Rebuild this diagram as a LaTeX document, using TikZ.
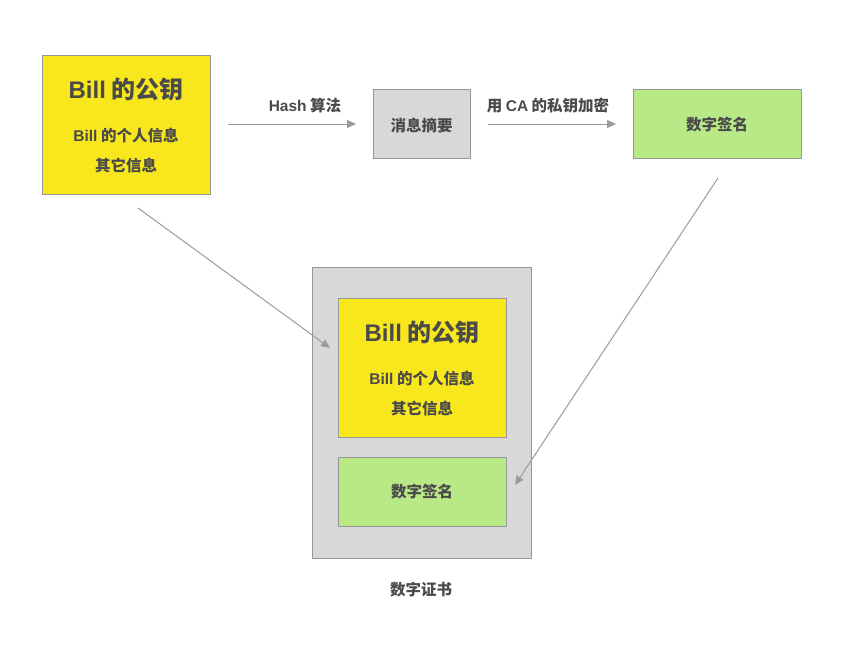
\documentclass[tikz,border=0pt]{standalone}
\usepackage{fontspec}
\setmainfont{Noto Sans CJK SC}
\newfontfamily\lat{Liberation Sans}
\usetikzlibrary{arrows.meta}
\definecolor{txt}{HTML}{4A4A4A}
\definecolor{yel}{HTML}{F8E71C}
\definecolor{grn}{HTML}{B8E986}
\definecolor{gry}{HTML}{D8D8D8}
\definecolor{brd}{HTML}{979797}
\definecolor{arr}{HTML}{9B9B9B}
\begin{document}
\begin{tikzpicture}[x=1pt,y=-1pt,
  box/.style={draw=brd,line width=0.8pt,inner sep=0pt},
  lbl/.style={text=txt,font=\fontsize{15.5}{18}\selectfont\bfseries,inner sep=0pt},
  ttl/.style={text=txt,font=\fontsize{24}{28}\selectfont\bfseries,inner sep=0pt},
  conn/.style={draw=arr,line width=1pt,-{Triangle[length=9pt,width=8pt]}}]
\useasboundingbox (0,0) rectangle (863,662);
% top left yellow box
\node[box,fill=yel,minimum width=168pt,minimum height=139pt] (pk) at (126,124.5) {};
\node[ttl] (pkt) at (126,89) {{\lat Bill} 的公钥};
\node[lbl] (pk1) at (126,136) {{\lat Bill} 的个人信息};
\node[lbl] (pk2) at (126,166) {其它信息};
% digest
\node[box,fill=gry,minimum width=97pt,minimum height=69pt] (dg) at (421.5,123.5) {};
\node[lbl] (dgt) at (421.5,125) {消息摘要};
% signature
\node[box,fill=grn,minimum width=168pt,minimum height=69pt] (sg) at (717,123.5) {};
\node[lbl] (sgt) at (717,125) {数字签名};
% arrows top
\coordinate (a1s) at (228,124);
\coordinate (a2s) at (488,124);
\coordinate (a1e) at (356,124);
\coordinate (a2e) at (616,124);
\draw[conn] (a1s) -- (a1e);
\draw[conn] (a2s) -- (a2e);
\node[lbl] (h) at (305,106) {{\lat Hash} 算法};
\node[lbl] (ca) at (548,106) {用 {\lat CA} 的私钥加密};
% certificate
\node[box,fill=gry,minimum width=219pt,minimum height=291pt] (cert) at (421.5,412.5) {};
\node[box,fill=yel,minimum width=168pt,minimum height=139pt] (ipk) at (422,367.5) {};
\node[ttl] (ipkt) at (422,332) {{\lat Bill} 的公钥};
\node[lbl] (ipk1) at (422,379) {{\lat Bill} 的个人信息};
\node[lbl] (ipk2) at (422,409) {其它信息};
\node[box,fill=grn,minimum width=168pt,minimum height=69pt] (isg) at (422,491.5) {};
\node[lbl] (isgt) at (422,492) {数字签名};
\node[lbl] (cl) at (421,590) {数字证书};
% diagonal arrows
\coordinate (d1s) at (138,208);
\coordinate (d1e) at (330,348);
\coordinate (d2s) at (718,178);
\coordinate (d2e) at (515,485);
\draw[conn] (d1s) -- (d1e);
\draw[conn] (d2s) -- (d2e);
\end{tikzpicture}
\end{document}
